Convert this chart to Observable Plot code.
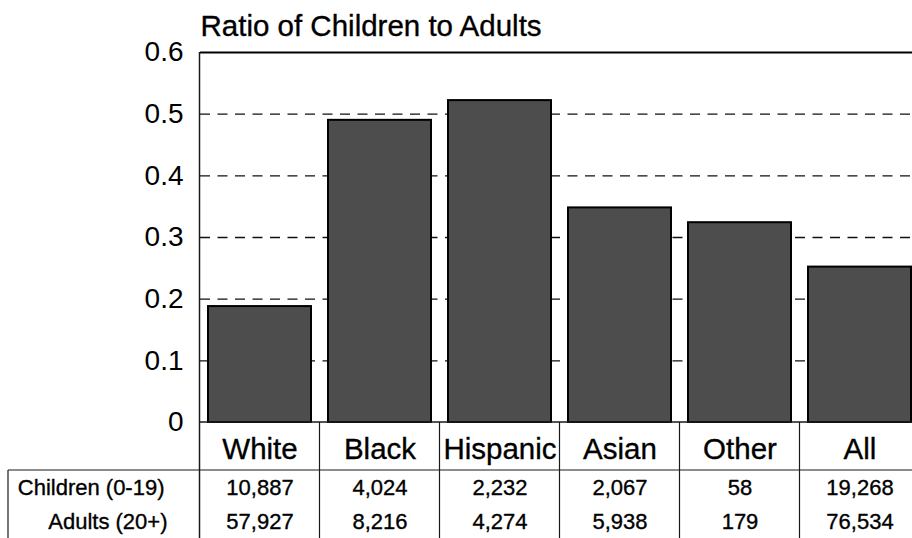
<!DOCTYPE html>
<html><head><meta charset="utf-8">
<script src="https://cdn.jsdelivr.net/npm/d3@7"></script>
<script src="https://cdn.jsdelivr.net/npm/@observablehq/plot@0.6"></script>
<style>html,body{margin:0;padding:0;overflow:hidden;background:#fff}svg{max-width:none!important}</style>
</head><body><div id="chart"></div>
<script>
const categories = ["White", "Black", "Hispanic", "Asian", "Other", "All"];
const ratios = [0.188, 0.490, 0.522, 0.348, 0.324, 0.252];
const children = ["10,887", "4,024", "2,232", "2,067", "58", "19,268"];
const adults = ["57,927", "8,216", "4,274", "5,938", "179", "76,534"];
const rowLabels = ["Children (0-19)", "Adults (20+)"];
const yTicks = [0, 0.1, 0.2, 0.3, 0.4, 0.5, 0.6];
const gridValues = [0.1, 0.2, 0.3, 0.4, 0.5];
const title = "Ratio of Children to Adults";

const data = categories.map((c, i) => ({category: c, ratio: ratios[i], children: children[i], adults: adults[i]}));
const font = "'Liberation Sans', Arial, Helvetica, sans-serif";

function tableLines(index, scales, values, dimensions) {
  const x = scales.x;
  const {width, height, marginTop, marginLeft, marginBottom} = dimensions;
  const bottom = height - marginBottom;
  const bw = x.bandwidth();
  const g = d3.create("svg:g").attr("fill", "none").attr("stroke", "#1a1a1a");
  const bounds = categories.map((c, i) => {
    if (i === 0) {
      const gap = x(categories[1]) - x(categories[0]) - bw;
      return x(c) - gap / 2;
    }
    return (x(categories[i - 1]) + bw + x(c)) / 2;
  });
  g.append("line").attr("x1", bounds[0]).attr("x2", bounds[0]).attr("y1", marginTop).attr("y2", height).attr("stroke-width", 1.5);
  bounds.slice(1).forEach(b => {
    g.append("line").attr("x1", b).attr("x2", b).attr("y1", bottom).attr("y2", height).attr("stroke-width", 1.2);
  });
  g.append("line").attr("x1", bounds[0]).attr("x2", width).attr("y1", bottom).attr("y2", bottom).attr("stroke-width", 1.5);
  const headerY = bottom + 48;
  g.append("line").attr("x1", 8).attr("x2", width).attr("y1", headerY).attr("y2", headerY).attr("stroke-width", 1.2);
  g.append("line").attr("x1", 8).attr("x2", 8).attr("y1", headerY).attr("y2", height).attr("stroke-width", 1.2);
  return g.node();
}

const textStyle = {fill: "#000", stroke: "#000", strokeWidth: 0.35, lineAnchor: "middle"};

const chart = Plot.plot({
  width: 920,
  height: 538,
  marginTop: 52,
  marginBottom: 116,
  marginLeft: 200,
  marginRight: 0,
  style: {fontFamily: font, fontSize: "28px", color: "#000", background: "#fff", overflow: "visible", maxWidth: "none"},
  x: {domain: categories, paddingInner: 0.14, paddingOuter: 0.07, axis: null},
  y: {domain: [0, 0.6], ticks: yTicks, tickSize: 0, tickPadding: 17, tickFormat: d3.format("~g"), label: null},
  marks: [
    Plot.ruleY(gridValues, {stroke: "#111", strokeWidth: 1.4, strokeDasharray: "10,7.5"}),
    Plot.barY(data, {x: "category", y: "ratio", fill: "#4d4d4d", stroke: "#000", strokeWidth: 2}),
    Plot.ruleY([0.6], {stroke: "#000", strokeWidth: 2.2}),
    tableLines,
    Plot.text([title], {...textStyle, frameAnchor: "top-left", textAnchor: "start", dy: -26, fontSize: 29.5}),
    Plot.text(data, {...textStyle, x: "category", text: "category", frameAnchor: "bottom", dy: 27, fontSize: 29.5}),
    Plot.text(data, {...textStyle, x: "category", text: "children", frameAnchor: "bottom", dy: 65, fontSize: 22}),
    Plot.text(data, {...textStyle, x: "category", text: "adults", frameAnchor: "bottom", dy: 99, fontSize: 22}),
    Plot.text([rowLabels[0]], {...textStyle, frameAnchor: "bottom-left", textAnchor: "end", dx: -36, dy: 65, fontSize: 22}),
    Plot.text([rowLabels[1]], {...textStyle, frameAnchor: "bottom-left", textAnchor: "end", dx: -33, dy: 99, fontSize: 22})
  ]
});
document.getElementById("chart").appendChild(chart);
</script>
</body></html>
